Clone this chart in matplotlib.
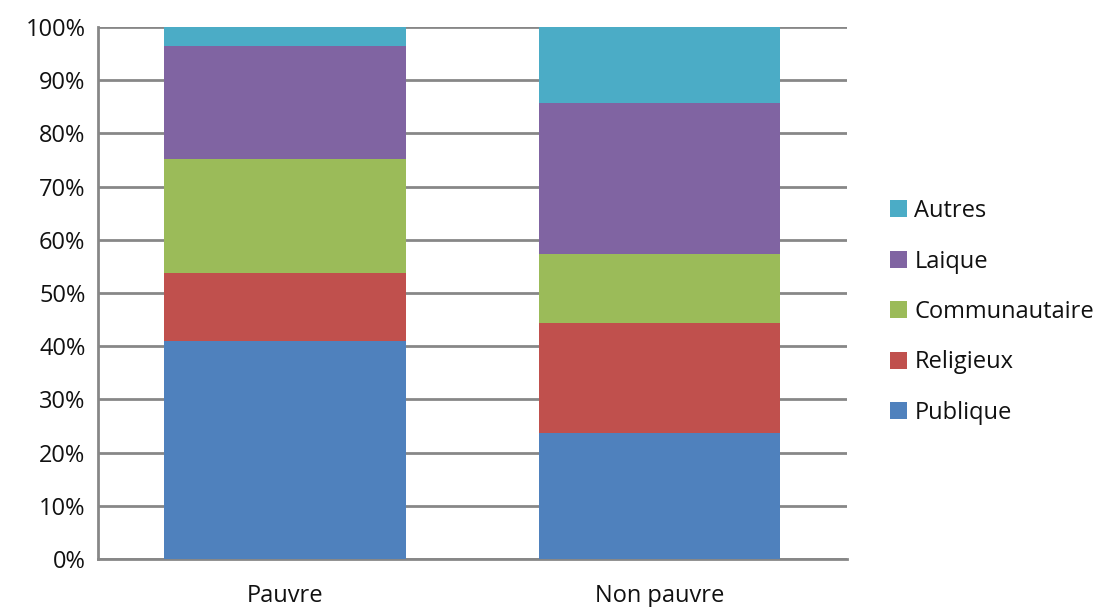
import numpy as np
import matplotlib.pyplot as plt
from matplotlib.ticker import PercentFormatter

plt.rcParams['font.family'] = ['Open Sans', 'DejaVu Sans']

# School type shares (%) by household poverty status
groups = ['Pauvre', 'Non pauvre']
categories = ['Publique', 'Religieux', 'Communautaire', 'Laique', 'Autres']
publique = [41.0, 23.7]
religieux = [12.7, 20.6]
communautaire = [21.4, 13.0]
laique = [21.3, 28.5]
autres = [3.6, 14.2]

colors = ['#4F81BD', '#C0504D', '#9BBB59', '#8064A2', '#4BACC6']
series = [publique, religieux, communautaire, laique, autres]

fig = plt.figure(figsize=(10.96, 6.07), dpi=100)
ax = fig.add_axes([0.0894, 0.079, 0.683, 0.8765])

x = np.arange(len(groups))
bottom = np.zeros(len(groups))
for name, vals, c in zip(categories, series, colors):
    ax.bar(x, vals, width=0.645, bottom=bottom, color=c, label=name, zorder=3)
    bottom += np.array(vals)

ax.set_xlim(-0.5, 1.5)
ax.set_ylim(0, 100)
ax.set_yticks(np.arange(0, 101, 10))
ax.yaxis.set_major_formatter(PercentFormatter(decimals=0))
ax.set_xticks(x)
ax.set_xticklabels(groups)
ax.tick_params(axis='both', length=0, labelsize=17, colors='#111111')
ax.tick_params(axis='x', pad=18)
ax.tick_params(axis='y', pad=9)

ax.grid(axis='y', color='#878787', linewidth=2, zorder=0)
for side in ['top', 'right']:
    ax.spines[side].set_visible(False)
ax.spines['left'].set_color('#878787')
ax.spines['left'].set_linewidth(2)
ax.spines['bottom'].set_color('#878787')
ax.spines['bottom'].set_linewidth(2)

handles, labels = ax.get_legend_handles_labels()
fig.legend(handles[::-1], labels[::-1], loc='center left',
           bbox_to_anchor=(0.793, 0.486), frameon=False, fontsize=17,
           labelcolor='#111111',
           handlelength=0.72, handleheight=0.72, handletextpad=0.3,
           labelspacing=1.12)

fig.savefig('out.png', dpi=100)
